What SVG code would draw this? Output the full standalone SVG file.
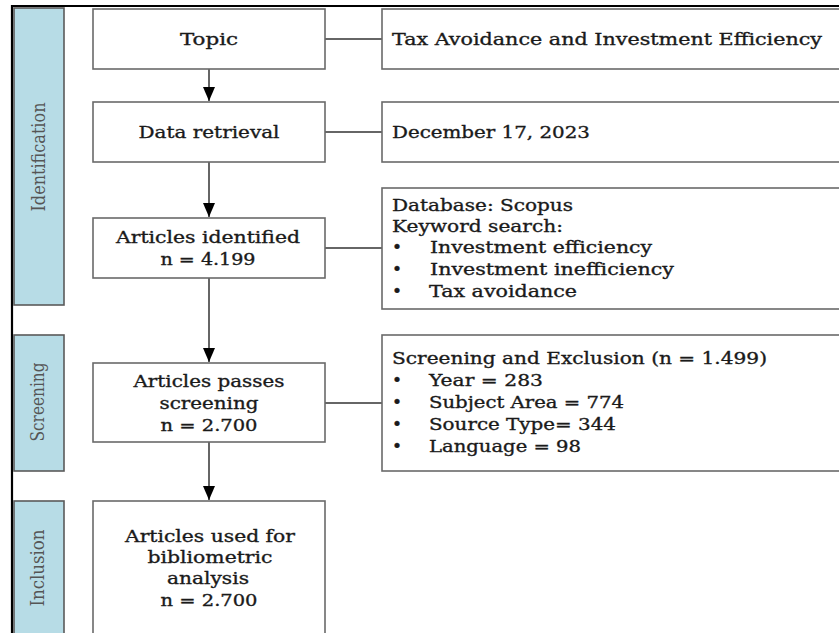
<svg xmlns="http://www.w3.org/2000/svg" width="839" height="633" viewBox="0 0 839 633">
<defs>
<style>
.box{fill:#fff;stroke:#6a6a6a;stroke-width:1.6}
.side{fill:#b7dce6;stroke:#5a5a5a;stroke-width:1.6}
.t{font-family:"DejaVu Serif","Liberation Serif",serif;font-size:17px;fill:#1a1a1a;stroke:#1a1a1a;stroke-width:0.35}
.c{text-anchor:middle}
.lab{font-family:"DejaVu Serif","Liberation Serif",serif;font-size:18px;fill:#555;text-anchor:middle}
.con{stroke:#333;stroke-width:1.5;fill:none}
.frame{stroke:#000;stroke-width:2.2;fill:none}
</style>
<marker id="ah" markerWidth="14" markerHeight="12" refX="14" refY="6" orient="auto" markerUnits="userSpaceOnUse" viewBox="0 0 14 12">
<path d="M0,0 L14,6 L0,12 Z" fill="#000"/>
</marker>
</defs>
<rect width="839" height="633" fill="#fff"/>
<path class="frame" d="M12,633 L12,6 L839,6"/>

<g id="side-identification">
<rect class="side" x="14" y="8" width="50" height="297"/>
<text class="lab" transform="translate(45,157) rotate(-90)" textLength="109" lengthAdjust="spacingAndGlyphs">Identification</text>
</g>
<g id="side-screening">
<rect class="side" x="14" y="335" width="50" height="136"/>
<text class="lab" transform="translate(44,402) rotate(-90)" textLength="79" lengthAdjust="spacingAndGlyphs">Screening</text>
</g>
<g id="side-inclusion">
<rect class="side" x="14" y="501" width="50" height="140"/>
<text class="lab" transform="translate(44,568) rotate(-90)" textLength="77" lengthAdjust="spacingAndGlyphs">Inclusion</text>
</g>

<g id="connectors">
<line class="con" x1="209" y1="69" x2="209" y2="101" marker-end="url(#ah)"/>
<line class="con" x1="209" y1="162" x2="209" y2="217" marker-end="url(#ah)"/>
<line class="con" x1="209" y1="278" x2="209" y2="362" marker-end="url(#ah)"/>
<line class="con" x1="209" y1="442" x2="209" y2="500" marker-end="url(#ah)"/>
<line class="con" x1="325" y1="39" x2="382" y2="39"/>
<line class="con" x1="325" y1="132" x2="382" y2="132"/>
<line class="con" x1="325" y1="248" x2="382" y2="248"/>
<line class="con" x1="325" y1="403" x2="382" y2="403"/>
</g>

<g id="topic">
<rect class="box" x="93" y="9" width="232" height="60"/>
<text class="t c" x="209" y="45" textLength="58" lengthAdjust="spacingAndGlyphs">Topic</text>
</g>
<g id="data-retrieval">
<rect class="box" x="93" y="102" width="232" height="60"/>
<text class="t c" x="209" y="138" textLength="141" lengthAdjust="spacingAndGlyphs">Data retrieval</text>
</g>
<g id="articles-identified">
<rect class="box" x="93" y="218" width="232" height="60"/>
<text class="t c" x="208" y="243" textLength="184" lengthAdjust="spacingAndGlyphs">Articles identified</text>
<text class="t c" x="208" y="265" textLength="95" lengthAdjust="spacingAndGlyphs">n = 4.199</text>
</g>
<g id="articles-screening">
<rect class="box" x="93" y="363" width="232" height="79"/>
<text class="t c" x="209" y="387" textLength="151" lengthAdjust="spacingAndGlyphs">Articles passes</text>
<text class="t c" x="209" y="409" textLength="99" lengthAdjust="spacingAndGlyphs">screening</text>
<text class="t c" x="209" y="431" textLength="97" lengthAdjust="spacingAndGlyphs">n = 2.700</text>
</g>
<g id="articles-inclusion">
<rect class="box" x="93" y="501" width="232" height="140"/>
<text class="t c" x="210" y="542" textLength="170" lengthAdjust="spacingAndGlyphs">Articles used for</text>
<text class="t c" x="210" y="563" textLength="125" lengthAdjust="spacingAndGlyphs">bibliometric</text>
<text class="t c" x="208" y="584" textLength="82" lengthAdjust="spacingAndGlyphs">analysis</text>
<text class="t c" x="209" y="606" textLength="97" lengthAdjust="spacingAndGlyphs">n = 2.700</text>
</g>

<g id="topic-detail">
<rect class="box" x="382" y="9" width="465" height="60"/>
<text class="t" x="392" y="45" textLength="430" lengthAdjust="spacingAndGlyphs">Tax Avoidance and Investment Efficiency</text>
</g>
<g id="date-detail">
<rect class="box" x="382" y="102" width="465" height="60"/>
<text class="t" x="392" y="138" textLength="198" lengthAdjust="spacingAndGlyphs">December 17, 2023</text>
</g>
<g id="database-detail">
<rect class="box" x="382" y="188" width="465" height="121"/>
<text class="t" x="392" y="211" textLength="181" lengthAdjust="spacingAndGlyphs">Database: Scopus</text>
<text class="t" x="392" y="232" textLength="171" lengthAdjust="spacingAndGlyphs">Keyword search:</text>
<text class="t" x="392" y="253">•</text>
<text class="t" x="430" y="253" textLength="222" lengthAdjust="spacingAndGlyphs">Investment efficiency</text>
<text class="t" x="392" y="275">•</text>
<text class="t" x="430" y="275" textLength="244" lengthAdjust="spacingAndGlyphs">Investment inefficiency</text>
<text class="t" x="392" y="297">•</text>
<text class="t" x="429" y="297" textLength="148" lengthAdjust="spacingAndGlyphs">Tax avoidance</text>
</g>
<g id="screening-detail">
<rect class="box" x="382" y="335" width="465" height="136"/>
<text class="t" x="392" y="364" textLength="375" lengthAdjust="spacingAndGlyphs">Screening and Exclusion (n = 1.499)</text>
<text class="t" x="392" y="386">•</text>
<text class="t" x="429" y="386" textLength="114" lengthAdjust="spacingAndGlyphs">Year = 283</text>
<text class="t" x="392" y="408">•</text>
<text class="t" x="429" y="408" textLength="195" lengthAdjust="spacingAndGlyphs">Subject Area = 774</text>
<text class="t" x="392" y="430">•</text>
<text class="t" x="429" y="430" textLength="187" lengthAdjust="spacingAndGlyphs">Source Type= 344</text>
<text class="t" x="392" y="452">•</text>
<text class="t" x="429" y="452" textLength="152" lengthAdjust="spacingAndGlyphs">Language = 98</text>
</g>
</svg>
